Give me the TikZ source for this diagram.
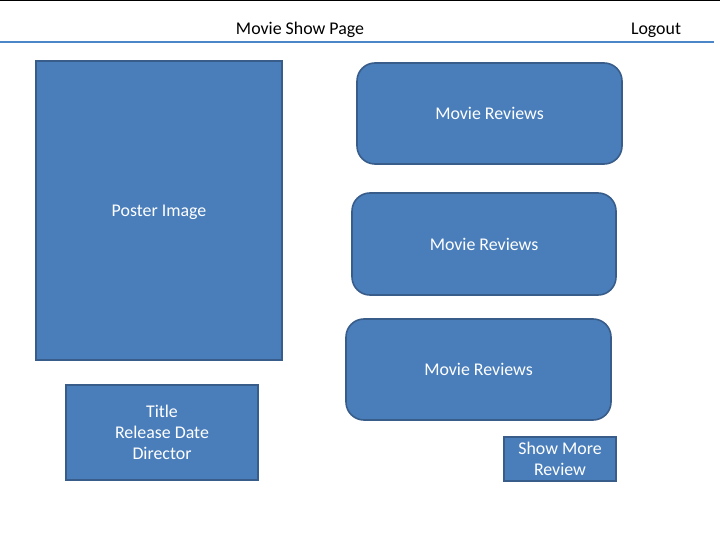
\documentclass[tikz,border=0pt]{standalone}
\usepackage{fontspec}
\setmainfont{Carlito}
\definecolor{boxfill}{HTML}{4A7EBB}
\definecolor{boxline}{HTML}{385D8A}
\definecolor{rulecol}{HTML}{4A86C8}
\begin{document}
\begin{tikzpicture}[x=0.75pt,y=-0.75pt,
  blk/.style={draw=boxline,fill=boxfill,line width=1.2pt,text=white,font=\fontsize{13.4}{16}\selectfont,align=center,inner sep=0pt},
  oneline/.style={text depth=0pt},
  rbox/.style={blk,oneline,rounded corners=13.5pt},
  hdr/.style={font=\fontsize{13.4}{16}\selectfont,text=black,inner sep=0pt,anchor=base}]
\useasboundingbox (0,0) rectangle (720,541);
\fill[white] (0,0) rectangle (720,541);
\draw[black,line width=1.5pt] (0,0.5) -- (720,0.5);
\draw[rulecol,line width=0.9pt] (0,42) -- (714,42);
\node[hdr] (title) at (300,35) {Movie Show Page};
\node[hdr] (logout) at (656,35) {Logout};
\node[blk,oneline,minimum width=246*0.75pt,minimum height=299*0.75pt] (poster) at (159,210.5) {Poster Image};
\node[blk,minimum width=192*0.75pt,minimum height=95*0.75pt] (info) at (162,432.5) {Title\\Release Date\\Director};
\node[rbox,minimum width=265*0.75pt,minimum height=101*0.75pt] (r1) at (489.5,113.5) {Movie Reviews};
\node[rbox,minimum width=264*0.75pt,minimum height=102*0.75pt] (r2) at (484,244) {Movie Reviews};
\node[rbox,minimum width=265*0.75pt,minimum height=101*0.75pt] (r3) at (478.5,369.5) {Movie Reviews};
\node[blk,minimum width=112*0.75pt,minimum height=44*0.75pt] (more) at (560,459) {Show More\\Review};
\end{tikzpicture}
\end{document}
